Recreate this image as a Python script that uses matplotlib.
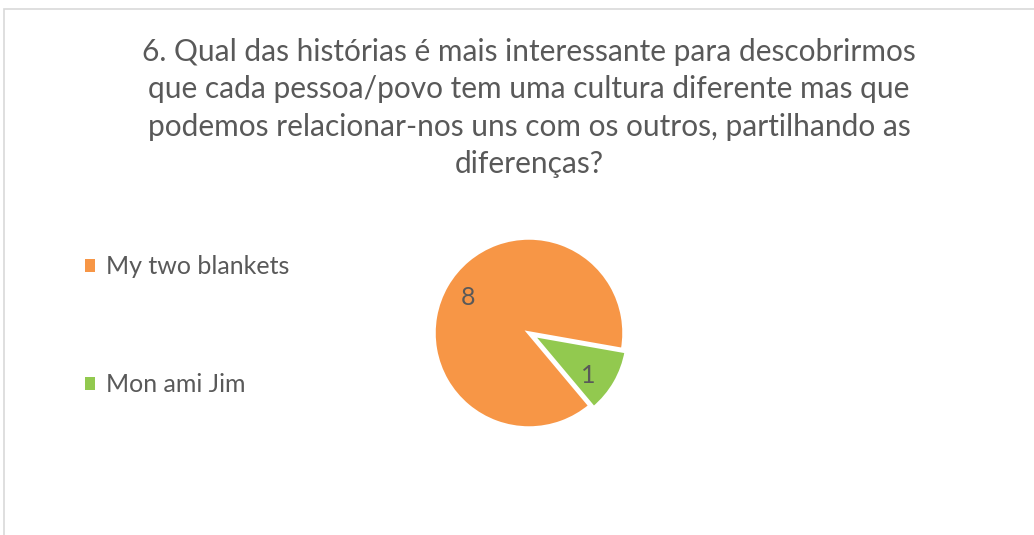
import matplotlib.pyplot as plt
from matplotlib.patches import Rectangle, Patch

# dados do gráfico
categorias = ["My two blankets", "Mon ami Jim"]
valores = [8, 1]
cores = ["#F79646", "#92C94F"]
titulo = ("6. Qual das histórias é mais interessante para descobrirmos\n"
          "que cada pessoa/povo tem uma cultura diferente mas que\n"
          "podemos relacionar-nos uns com os outros, partilhando as\n"
          "diferenças?")

plt.rcParams['font.family'] = ['Lato', 'DejaVu Sans']
cinza = "#595959"

W, H = 1034, 535
fig = plt.figure(figsize=(W / 100, H / 100), dpi=100)

# moldura do gráfico (cortada à direita e em baixo)
fig.patches.append(Rectangle((4 / W, -0.1), 1.2, (H - 9) / H + 0.1,
                             transform=fig.transFigure, fill=False,
                             edgecolor="#D9D9D9", linewidth=1.2))

# titulo
fig.text(529 / W, 1 - 108 / H, titulo, ha="center", va="center",
         fontsize=21.5, color=cinza, linespacing=1.4)

# pizza: centro (529, 333), raio 95 px
r = 95
ax = fig.add_axes([(529 - r) / W, (H - 333 - r) / H, 2 * r / W, 2 * r / H])
total = sum(valores)
fatias, _, textos = ax.pie(valores, colors=cores, startangle=-50,
                           counterclock=False, explode=[0, 0.045],
                           autopct=lambda p: f"{round(p * total / 100)}",
                           pctdistance=0.74,
                           wedgeprops=dict(edgecolor="white", linewidth=2.5),
                           textprops=dict(fontsize=18, color=cinza))
# "1" um pouco mais abaixo, como no original
textos[1].set_position((0.62, -0.45))
ax.set_xlim(-1, 1)
ax.set_ylim(-1, 1)
ax.set_aspect("equal")
ax.axis("off")

# legenda à esquerda
marcas = [Patch(facecolor=c, edgecolor="none") for c in cores]
fig.legend(marcas, categorias, loc="upper left",
           bbox_to_anchor=(72 / W, 1 - 243 / H), frameon=False,
           fontsize=18, labelcolor=cinza, handlelength=0.42,
           handleheight=0.42, handletextpad=0.45, labelspacing=3.8,
           borderpad=0)

fig.savefig("out.png", dpi=100)
